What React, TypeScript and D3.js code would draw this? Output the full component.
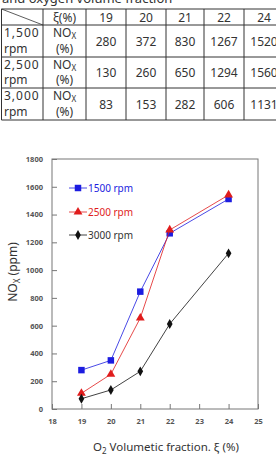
import * as d3 from "d3";
import { useEffect, useRef } from "react";

// table values (NOx, per engine speed)
const xiValues = [19, 20, 21, 22, 24];
const rpmLabels = ["1,500", "2,500", "3,000"];
const table1500 = [280, 372, 830, 1267, 1520];
const table2500 = [130, 260, 650, 1294, 1560];
const table3000 = [83, 153, 282, 606, 1131];

// plotted points
const o2Fraction = [19, 20, 21, 22, 24];
const nox1500 = [280, 350, 845, 1265, 1512];
const nox2500 = [113, 250, 655, 1289, 1541];
const nox3000 = [74, 137, 271, 612, 1121];
const seriesNames = ["1500 rpm", "2500 rpm", "3000 rpm"];
const yTicks = [0, 200, 400, 600, 800, 1000, 1200, 1400, 1600, 1800];
const xTicks = [18, 19, 20, 21, 22, 23, 24, 25];

const W = 276;
const H = 456;
const FONT = "'Noto Sans', 'Open Sans', sans-serif";

export default function App() {
  const ref = useRef<SVGSVGElement>(null);

  useEffect(() => {
    document.body.style.margin = "0";
    const svg = d3.select(ref.current);
    svg.selectAll("*").remove();

    // --- caption line (clipped at the top) ---
    svg.append("text")
      .attr("x", 2).attr("y", 3)
      .attr("font-family", FONT)
      .attr("font-size", 13).attr("fill", "#333")
      .text("and oxygen volume fraction");

    // --- table ---
    const colEdges = [1.5, 43, 86, 126, 166, 204, 244, 284];
    const rowEdges = [9, 25, 57, 88, 120];
    const tbl = svg.append("g").attr("font-family", FONT).attr("fill", "#333");

    tbl.selectAll("line.h").data(rowEdges).join("line")
      .attr("x1", colEdges[0]).attr("x2", colEdges[colEdges.length - 1])
      .attr("y1", d => d).attr("y2", d => d)
      .attr("stroke", "#333").attr("stroke-width", 1);
    tbl.selectAll("line.v").data(colEdges).join("line")
      .attr("x1", d => d).attr("x2", d => d)
      .attr("y1", rowEdges[0]).attr("y2", rowEdges[rowEdges.length - 1])
      .attr("stroke", "#333").attr("stroke-width", 1);
    tbl.append("line")
      .attr("x1", colEdges[0]).attr("y1", rowEdges[0])
      .attr("x2", colEdges[1]).attr("y2", rowEdges[1])
      .attr("stroke", "#333").attr("stroke-width", 0.8);

    const mid = (i: number) => (colEdges[i] + colEdges[i + 1]) / 2;
    const headY = (rowEdges[0] + rowEdges[1]) / 2 + 4.5;
    tbl.append("text").attr("x", mid(1)).attr("y", headY)
      .attr("text-anchor", "middle").attr("font-size", 12).text("ξ(%)");
    tbl.selectAll("text.xi").data(xiValues).join("text")
      .attr("x", (_, i) => mid(i + 2)).attr("y", headY)
      .attr("text-anchor", "middle").attr("font-size", 12).text(d => d);

    const tableRows = [table1500, table2500, table3000];
    tableRows.forEach((vals, r) => {
      const top = rowEdges[r + 1];
      const bot = rowEdges[r + 2];
      const cy = (top + bot) / 2;
      tbl.append("text").attr("x", 4).attr("y", cy - 4)
        .attr("font-size", 12).attr("letter-spacing", 1).text(rpmLabels[r]);
      tbl.append("text").attr("x", 4).attr("y", cy + 11.5)
        .attr("font-size", 12).text("rpm");
      const nox = tbl.append("text").attr("x", mid(1)).attr("y", cy - 4)
        .attr("text-anchor", "middle").attr("font-size", 12);
      nox.append("tspan").text("NO");
      nox.append("tspan").attr("font-size", 8).attr("dy", 2).text("X");
      tbl.append("text").attr("x", mid(1)).attr("y", cy + 11.5)
        .attr("text-anchor", "middle").attr("font-size", 12).text("(%)");
      tbl.selectAll(null).data(vals).join("text")
        .attr("x", (_, i) => mid(i + 2)).attr("y", cy + 4.5)
        .attr("text-anchor", "middle").attr("font-size", 12).text(d => d);
    });

    // --- chart ---
    const left = 52, right = 258, top = 159, bottom = 409;
    const x = d3.scaleLinear().domain([18, 25]).range([left, right]);
    const y = d3.scaleLinear().domain([0, 1800]).range([bottom, top]);

    svg.append("rect")
      .attr("x", left).attr("y", top)
      .attr("width", right - left).attr("height", bottom - top)
      .attr("fill", "none").attr("stroke", "#777").attr("stroke-width", 1);

    svg.append("g")
      .attr("transform", `translate(${left},0)`)
      .call(d3.axisLeft(y).tickValues(yTicks).tickFormat(d3.format("d")).tickSize(-5).tickPadding(9))
      .call(g => g.select(".domain").remove())
      .call(g => g.selectAll(".tick line").attr("stroke", "#777"))
      .call(g => g.selectAll(".tick text")
        .attr("font-family", FONT).attr("font-size", 7.5)
        .attr("font-weight", "bold").attr("fill", "#555"));

    svg.append("g")
      .attr("transform", `translate(0,${bottom})`)
      .call(d3.axisBottom(x).tickValues(xTicks).tickFormat(d3.format("d")).tickSize(-5).tickPadding(10))
      .call(g => g.select(".domain").remove())
      .call(g => g.selectAll(".tick line").attr("stroke", "#777"))
      .call(g => g.selectAll(".tick text")
        .attr("font-family", FONT).attr("font-size", 7.5)
        .attr("font-weight", "bold").attr("fill", "#555"));

    const colors = ["#1c1ce0", "#e01c1c", "#111"];
    const symbols = [d3.symbolSquare, d3.symbolTriangle, d3.symbolDiamond];
    const sizes = [42, 34, 28];
    const all = [nox1500, nox2500, nox3000];
    const line = d3.line<number>().x((_, i) => x(o2Fraction[i])).y(d => y(d));

    all.forEach((vals, s) => {
      svg.append("path").datum(vals)
        .attr("d", line).attr("fill", "none")
        .attr("stroke", colors[s]).attr("stroke-width", 0.8);
      svg.append("g").selectAll("path").data(vals).join("path")
        .attr("transform", (d, i) => `translate(${x(o2Fraction[i])},${y(d)})`)
        .attr("d", d3.symbol(symbols[s], sizes[s])())
        .attr("fill", colors[s]);
    });

    // legend
    const legendY = [188, 212, 235];
    const lg = svg.append("g").attr("font-family", FONT);
    seriesNames.forEach((name, s) => {
      lg.append("line")
        .attr("x1", 69).attr("x2", 87)
        .attr("y1", legendY[s]).attr("y2", legendY[s])
        .attr("stroke", colors[s]).attr("stroke-width", 0.8);
      lg.append("path")
        .attr("transform", `translate(78,${legendY[s]})`)
        .attr("d", d3.symbol(symbols[s], sizes[s])())
        .attr("fill", colors[s]);
      lg.append("text")
        .attr("x", 88).attr("y", legendY[s] + 3.5)
        .attr("font-size", 10).attr("fill", s === 2 ? "#333" : colors[s])
        .text(name);
    });

    // axis titles
    const xl = svg.append("text")
      .attr("x", 166).attr("y", 451)
      .attr("text-anchor", "middle").attr("font-family", FONT)
      .attr("font-size", 11.5).attr("fill", "#333");
    xl.append("tspan").text("O");
    xl.append("tspan").attr("font-size", 8).attr("dy", 3).text("2");
    xl.append("tspan").attr("dy", -3).text(" Volumetic fraction. ξ (%)");

    const yl = svg.append("text")
      .attr("transform", "translate(17,272) rotate(-90)")
      .attr("text-anchor", "middle").attr("font-family", FONT)
      .attr("font-size", 12).attr("fill", "#333");
    yl.append("tspan").text("NO");
    yl.append("tspan").attr("font-size", 8).attr("dy", 3).text("X");
    yl.append("tspan").attr("dy", -3).text("  (ppm)");
  }, []);

  return (
    <div>
      <svg ref={ref} width={W} height={H} style={{ display: "block", background: "#fff" }} />
    </div>
  );
}
